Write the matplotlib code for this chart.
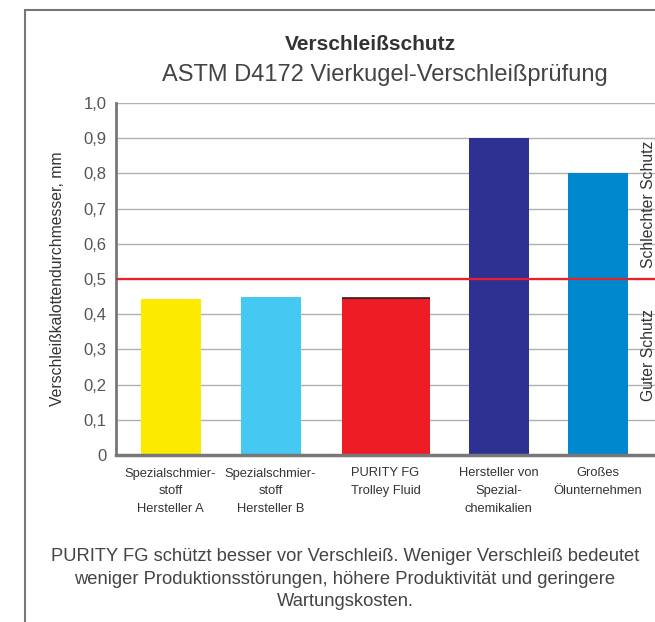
import matplotlib
matplotlib.use("Agg")
import matplotlib.pyplot as plt
from matplotlib.patches import Rectangle

# Data
categories = [
    "Spezialschmier-\nstoff\nHersteller A",
    "Spezialschmier-\nstoff\nHersteller B",
    "PURITY FG\nTrolley Fluid",
    "Hersteller von\nSpezial-\nchemikalien",
    "Großes\nÖlunternehmen",
]
wear_mm = [0.443, 0.449, 0.447, 0.90, 0.80]
threshold = 0.5
y_ticks = [0.0, 0.1, 0.2, 0.3, 0.4, 0.5, 0.6, 0.7, 0.8, 0.9, 1.0]
y_tick_labels = ["0", "0,1", "0,2", "0,3", "0,4", "0,5", "0,6", "0,7", "0,8", "0,9", "1,0"]

# Layout / style
x_pos = [0, 1, 2.15, 3.28, 4.27]
widths = [0.6, 0.6, 0.88, 0.6, 0.6]
colors = ["#FCEA00", "#45C8F2", "#EE1C25", "#2E3192", "#0088CF"]
font = "Liberation Sans"

fig = plt.figure(figsize=(6.55, 6.22), dpi=100)
ax = fig.add_axes([116 / 655, (622 - 455) / 622, 1 - 116 / 655, (455 - 103) / 622])

ax.set_axisbelow(True)
ax.grid(axis="y", color="#b0b0b0", linewidth=1)
ax.bar(x_pos, wear_mm, width=widths, color=colors, zorder=2)
# thin dark cap on the PURITY bar
ax.hlines(wear_mm[2], x_pos[2] - widths[2] / 2, x_pos[2] + widths[2] / 2,
          color="#222222", linewidth=1.2, zorder=3)
ax.axhline(threshold, color="#E8202A", linewidth=1.6, zorder=4)

ax.set_xlim(-0.545, 4.845)
ax.set_ylim(0, 1.0)
ax.set_yticks(y_ticks)
ax.set_yticklabels(y_tick_labels, fontfamily=font, fontsize=12, color="#555555")
ax.set_xticks(x_pos)
ax.set_xticklabels(categories, fontfamily=font, fontsize=9.3, color="#333333",
                   linespacing=1.65)
ax.tick_params(axis="both", length=0)
ax.tick_params(axis="y", pad=7)
ax.tick_params(axis="x", pad=9)

for side in ["top", "right"]:
    ax.spines[side].set_visible(False)
ax.spines["left"].set_color("#777777")
ax.spines["left"].set_linewidth(2)
ax.spines["bottom"].set_color("#777777")
ax.spines["bottom"].set_linewidth(2.5)

ax.set_ylabel("Verschleißkalottendurchmesser, mm", fontfamily=font, fontsize=11.3,
              color="#333333", labelpad=13)

# side annotations
ax.text(0.988, 0.713, "Schlechter Schutz", transform=ax.get_yaxis_transform(),
        rotation=90, ha="center", va="center", fontfamily=font, fontsize=11.3,
        color="#333333")
ax.text(0.988, 0.284, "Guter Schutz", transform=ax.get_yaxis_transform(),
        rotation=90, ha="center", va="center", fontfamily=font, fontsize=11.3,
        color="#333333")

# titles
fig.text(370 / 655, 1 - 45 / 622, "Verschleißschutz", ha="center", va="center",
         fontfamily=font, fontweight="bold", fontsize=15, color="#333333")
fig.text(385 / 655, 1 - 75 / 622, "ASTM D4172 Vierkugel-Verschleißprüfung",
         ha="center", va="center", fontfamily=font, fontsize=17, color="#444444")

# caption
caption = ("PURITY FG schützt besser vor Verschleiß. Weniger Verschleiß bedeutet\n"
           "weniger Produktionsstörungen, höhere Produktivität und geringere\n"
           "Wartungskosten.")
fig.text(345 / 655, 1 - 579 / 622, caption, ha="center", va="center",
         fontfamily=font, fontsize=13.2, color="#444444", linespacing=1.42)

# outer frame
fig.add_artist(Rectangle((25 / 655, -0.1), 1.2, 1.1 - 10 / 622,
                         transform=fig.transFigure, fill=False,
                         edgecolor="#777777", linewidth=1.5))

fig.savefig("out.png", dpi=100)
